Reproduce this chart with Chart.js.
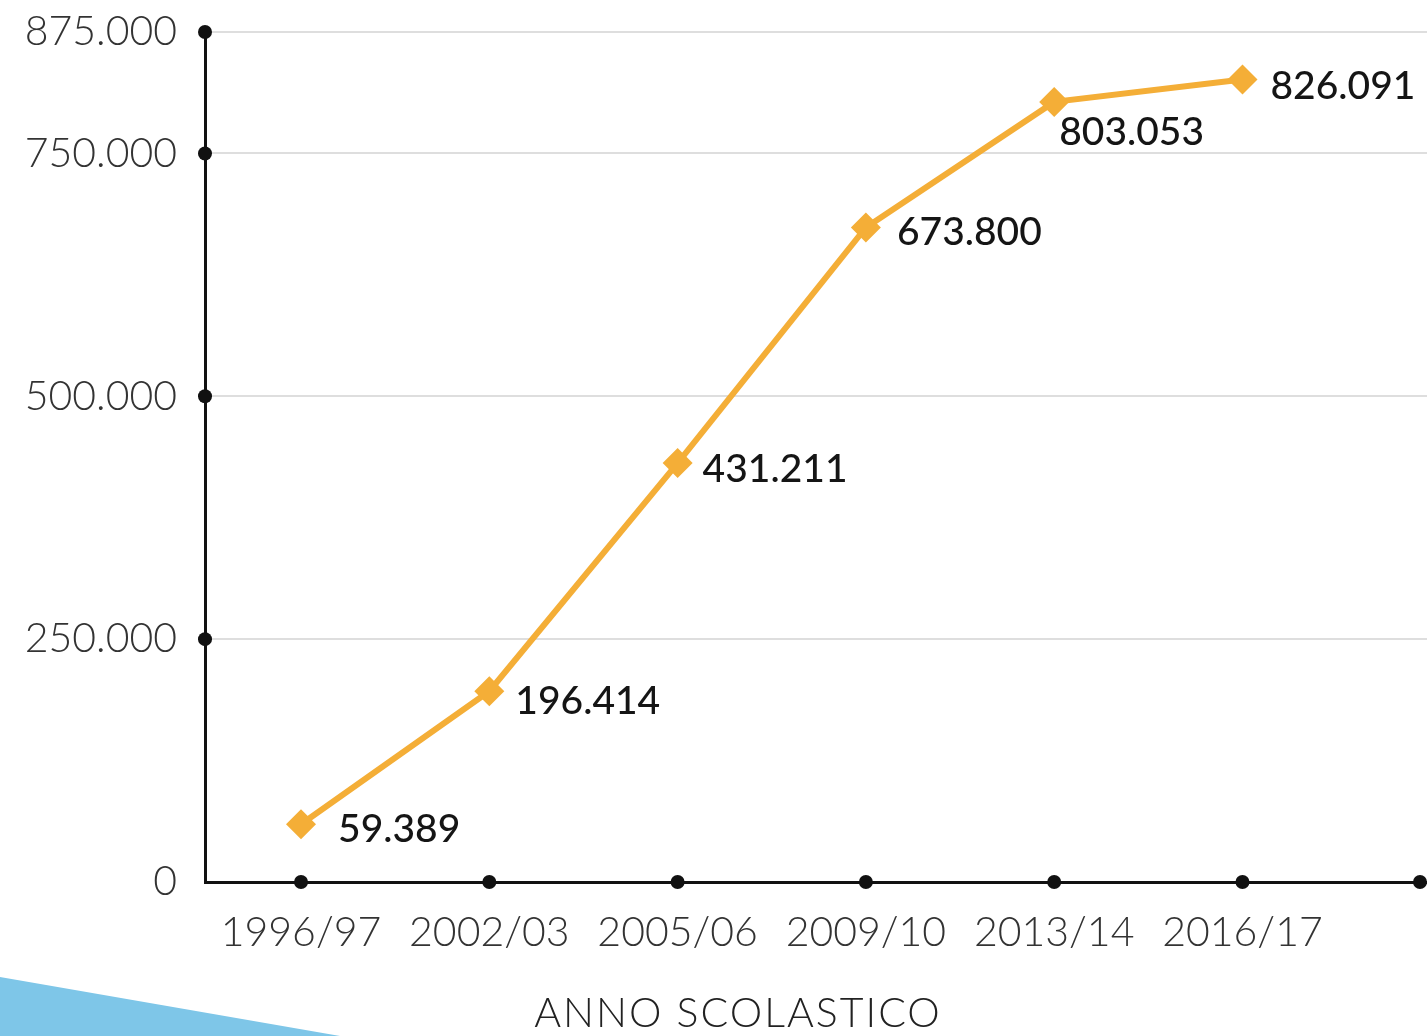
<!DOCTYPE html>
<html lang="it">
<head>
<meta charset="utf-8">
<title>Iscritti per anno scolastico</title>
<script src="https://cdn.jsdelivr.net/npm/chart.js@4.4.1/dist/chart.umd.min.js"></script>
<style>
  html, body { margin: 0; padding: 0; background: #ffffff; }
  #wrap { width: 1427px; height: 1036px; }
</style>
</head>
<body>
<div id="wrap"><canvas id="grafico" width="1427" height="1036"></canvas></div>
<script>
// Dati della serie
const anni = ['1996/97', '2002/03', '2005/06', '2009/10', '2013/14', '2016/17'];
const valori = [59389, 196414, 431211, 673800, 803053, 826091];
const tickY = [0, 250000, 500000, 750000, 875000];

const ARANCIO = '#f4ae37';

// formato italiano con il punto delle migliaia
function formatta(n) {
    return n.toString().replace(/\B(?=(\d{3})+(?!\d))/g, '.');
}

// sfondo con il triangolo azzurro in basso a sinistra
const sfondo = {
    id: 'sfondo',
    beforeDraw(chart) {
        const ctx = chart.ctx;
        ctx.save();
        ctx.fillStyle = '#ffffff';
        ctx.fillRect(0, 0, chart.width, chart.height);
        ctx.fillStyle = '#7ec6e8';
        ctx.beginPath();
        ctx.moveTo(0, 977);
        ctx.lineTo(340, chart.height);
        ctx.lineTo(0, chart.height);
        ctx.closePath();
        ctx.fill();
        ctx.restore();
    }
};

// pallini neri sugli assi (uno anche in fondo all'asse x) e titolo dell'asse x
const pallini = {
    id: 'pallini',
    afterDraw(chart) {
        const ctx = chart.ctx;
        const x = chart.scales.x, y = chart.scales.y;
        ctx.save();
        ctx.fillStyle = '#111111';
        const px = x.ticks.map(t => x.getPixelForValue(t.value));
        px.push(x.right - 7);
        px.forEach(p => {
            ctx.beginPath();
            ctx.arc(p, y.bottom, 7, 0, Math.PI * 2);
            ctx.fill();
        });
        y.ticks.forEach(t => {
            if (t.value === 0) return;
            ctx.beginPath();
            ctx.arc(x.left, y.getPixelForValue(t.value), 7, 0, Math.PI * 2);
            ctx.fill();
        });
        ctx.fillStyle = '#222222';
        ctx.font = '300 41px Lato';
        ctx.letterSpacing = '2px';
        ctx.textAlign = 'center';
        ctx.textBaseline = 'middle';
        ctx.fillText('ANNO SCOLASTICO', 738, 1014);
        ctx.restore();
    }
};

// etichette con il valore accanto a ogni punto
const spostamenti = [[37, 5], [26, 10], [25, 6], [31, 5], [5, 31], [28, 7]];
const etichette = {
    id: 'etichette',
    afterDatasetsDraw(chart) {
        const ctx = chart.ctx;
        const meta = chart.getDatasetMeta(0);
        ctx.save();
        ctx.fillStyle = '#151515';
        ctx.font = '500 39px Lato';
        ctx.textAlign = 'left';
        ctx.textBaseline = 'middle';
        meta.data.forEach((p, i) => {
            const d = spostamenti[i];
            ctx.fillText(formatta(valori[i]), p.x + d[0], p.y + d[1]);
        });
        ctx.restore();
    }
};

new Chart(document.getElementById('grafico'), {
    type: 'line',
    data: {
        datasets: [{
            data: valori.map((v, i) => ({ x: i, y: v })),
            borderColor: ARANCIO,
            backgroundColor: ARANCIO,
            borderWidth: 6,
            tension: 0,
            pointStyle: 'rectRot',
            pointRadius: 15,
            pointBorderWidth: 0,
            pointBackgroundColor: ARANCIO
        }]
    },
    options: {
        responsive: false,
        animation: false,
        layout: { autoPadding: false, padding: { top: 32, right: 0, left: 0, bottom: 0 } },
        plugins: {
            legend: { display: false },
            tooltip: { enabled: false }
        },
        scales: {
            x: {
                type: 'linear',
                min: -0.51,
                max: 5.98,
                afterBuildTicks: s => { s.ticks = [0, 1, 2, 3, 4, 5].map(v => ({ value: v })); },
                afterFit: s => { s.height = 154; s.paddingLeft = 0; s.paddingRight = 0; },
                grid: { display: false, drawTicks: false },
                border: { color: '#111111', width: 3 },
                ticks: {
                    padding: 26,
                    color: '#333333',
                    font: { family: 'Lato', size: 41, weight: '300' },
                    maxRotation: 0,
                    autoSkip: false,
                    callback: v => anni[v] || ''
                }
            },
            y: {
                min: 0,
                max: 875000,
                afterBuildTicks: s => { s.ticks = tickY.map(v => ({ value: v })); },
                afterFit: s => { s.width = 205; s.paddingTop = 0; s.paddingBottom = 0; },
                grid: {
                    color: c => c.tick.value === 0 ? 'rgba(0,0,0,0)' : '#dedede',
                    lineWidth: 2,
                    drawTicks: false
                },
                border: { color: '#111111', width: 3 },
                ticks: {
                    padding: 28,
                    color: '#333333',
                    font: { family: 'Lato', size: 41, weight: '300' },
                    callback: v => formatta(v)
                }
            }
        }
    },
    plugins: [sfondo, pallini, etichette]
});
</script>
</body>
</html>
